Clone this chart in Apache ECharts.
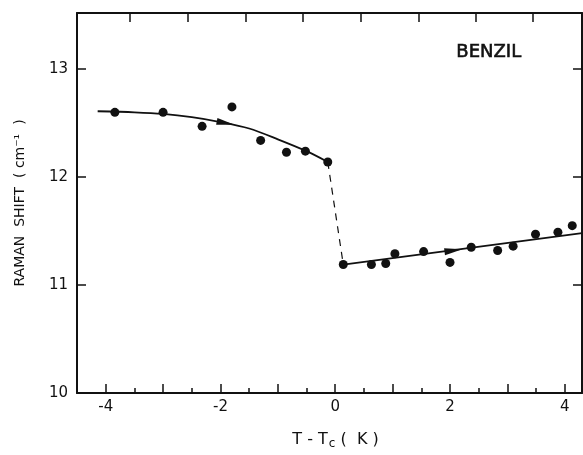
<!DOCTYPE html>
<html>
<head>
<meta charset="utf-8">
<script src="https://cdn.jsdelivr.net/npm/echarts@6/dist/echarts.min.js"></script>
<style>
  html, body { margin: 0; padding: 0; background: #fff; }
  #chart { width: 583px; height: 455px; }
</style>
</head>
<body>
<div id="chart"></div>
<script>
// measured points, T - Tc (K) vs Raman shift (cm^-1)
const belowX = [-3.84, -3.0, -2.32, -1.80, -1.30, -0.85, -0.52, -0.13];
const belowY = [12.60, 12.60, 12.47, 12.65, 12.34, 12.23, 12.24, 12.14];
const aboveX = [0.14, 0.63, 0.88, 1.04, 1.54, 2.0, 2.37, 2.83, 3.10, 3.49, 3.88, 4.13];
const aboveY = [11.19, 11.19, 11.20, 11.29, 11.31, 11.21, 11.35, 11.32, 11.36, 11.47, 11.49, 11.55];

// hand-drawn guide curves
const curveX = [-4.14, -3.5, -3.0, -2.5, -2.0, -1.5, -1.0, -0.5, -0.13];
const curveY = [12.61, 12.60, 12.585, 12.555, 12.51, 12.45, 12.35, 12.24, 12.14];
const lineX = [0.14, 4.3];
const lineY = [11.19, 11.48];
const jumpX = [-0.13, 0.14];
const jumpY = [12.14, 11.19];
const arrowX = [-1.91, 2.06];
const arrowY = [12.50, 11.32];

// ticks
const xMajor = [-4, -3, -2, -1, 0, 1, 2, 3, 4];
const xMinor = [-3.5, -2.5, -1.5, -0.5, 0.5, 1.5, 2.5, 3.5];
const xLabels = [-4, -2, 0, 2, 4];
const xTop = [-3.58, -2.57, -1.56, -0.56, 0.44, 1.45, 2.45, 3.45];
const yTicks = [11, 12, 13];
const yLabels = [10, 11, 12, 13];

const zip = (xs, ys) => xs.map((x, i) => [x, ys[i]]);

const ink = '#111';
const font = 'DejaVu Sans';
const xMin = -4.5, xMax = 4.3, yMin = 10, yMax = 13.52;

const baseX = {
  type: 'value', min: xMin, max: xMax,
  splitLine: { show: false },
  axisLine: { show: true, onZero: false, lineStyle: { color: ink, width: 2 } },
  axisLabel: { show: false },
  axisTick: { show: true, inside: true, length: 9, lineStyle: { color: ink, width: 1.5 } }
};
const baseY = {
  type: 'value', min: yMin, max: yMax,
  splitLine: { show: false },
  axisLine: { show: true, onZero: false, lineStyle: { color: ink, width: 2 } },
  axisLabel: { show: false },
  axisTick: { show: true, inside: true, length: 9, customValues: yTicks, lineStyle: { color: ink, width: 1.5 } }
};

const chart = echarts.init(document.getElementById('chart'));
chart.setOption({
  backgroundColor: '#fff',
  animation: false,
  grid: { left: 77, top: 13, right: 1, bottom: 53 },
  xAxis: [
    Object.assign({}, baseX, {
      position: 'bottom',
      name: '{n|T - T}{s|c}{n| (  K )}',
      nameLocation: 'middle',
      nameGap: 36,
      nameTextStyle: {
        padding: [0, 0, 0, 12],
        rich: {
          n: { fontFamily: font, fontSize: 16, color: ink },
          s: { fontFamily: font, fontSize: 12, color: ink, padding: [9, 0, 0, 1] }
        }
      },
      axisTick: Object.assign({}, baseX.axisTick, { customValues: xMajor }),
      axisLabel: { show: true, customValues: xLabels, margin: 7, fontFamily: font, fontSize: 15, color: ink }
    }),
    Object.assign({}, baseX, {
      position: 'bottom',
      axisLine: { show: false, onZero: false },
      axisTick: Object.assign({}, baseX.axisTick, { customValues: xMinor, length: 5 })
    }),
    Object.assign({}, baseX, {
      position: 'top',
      axisTick: Object.assign({}, baseX.axisTick, { customValues: xTop })
    })
  ],
  yAxis: [
    Object.assign({}, baseY, {
      position: 'left',
      name: 'RAMAN  SHIFT  ( cm\u207B\u00B9  )',
      nameLocation: 'middle',
      nameRotate: 90,
      nameGap: 50,
      nameTextStyle: { fontFamily: font, fontSize: 14, color: ink },
      axisLabel: { show: true, customValues: yLabels, margin: 9, fontFamily: font, fontSize: 15, color: ink }
    }),
    Object.assign({}, baseY, { position: 'right' })
  ],
  graphic: [{
    type: 'text', left: 456, top: 43,
    style: { text: 'BENZIL', font: '18px "DejaVu Sans"', fill: ink, stroke: ink, lineWidth: 0.6 }
  }],
  series: [
    {
      type: 'line', data: zip(curveX, curveY), smooth: 0.3, showSymbol: false,
      lineStyle: { color: ink, width: 1.8 }, z: 2
    },
    {
      type: 'line', data: zip(lineX, lineY), showSymbol: false,
      lineStyle: { color: ink, width: 1.8 }, z: 2
    },
    {
      type: 'line', data: zip(jumpX, jumpY), showSymbol: false,
      lineStyle: { color: ink, width: 1.2, type: [7, 6] }, z: 2
    },
    {
      type: 'scatter', data: zip(arrowX, arrowY), symbol: 'triangle',
      symbolSize: [7, 18],
      symbolRotate: (v, p) => (p.dataIndex === 0 ? -101 : -82.5),
      itemStyle: { color: ink, opacity: 1 }, z: 3
    },
    {
      type: 'scatter', data: zip(belowX, belowY), symbolSize: 9,
      itemStyle: { color: ink, opacity: 1 }, z: 4
    },
    {
      type: 'scatter', data: zip(aboveX, aboveY), symbolSize: 9,
      itemStyle: { color: ink, opacity: 1 }, z: 4
    }
  ]
});
</script>
</body>
</html>
